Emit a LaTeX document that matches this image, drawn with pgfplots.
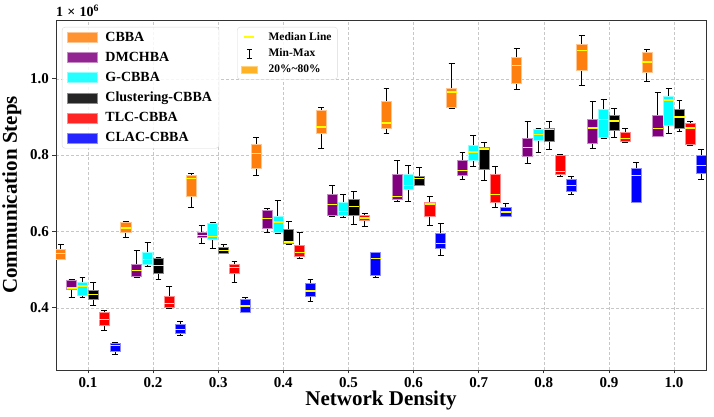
\documentclass[border=0pt]{standalone}
\usepackage{pgfplots}
\pgfplotsset{compat=1.18}
\usepackage{pgfplotstable}
\usepgfplotslibrary{statistics}
\usepackage{fontspec}
\setmainfont{Liberation Serif}

\definecolor{cOrange}{RGB}{255,127,14}
\definecolor{cPurple}{RGB}{128,0,128}
\definecolor{cCyan}{RGB}{0,255,255}
\definecolor{cBlack}{RGB}{0,0,0}
\definecolor{cRed}{RGB}{255,0,0}
\definecolor{cBlue}{RGB}{0,0,255}
\definecolor{cLegOrange}{RGB}{255,165,0}
\definecolor{cMed}{RGB}{255,255,0}

% columns: lower whisker, lower quartile, median, upper quartile, upper whisker (x 10^6)
\pgfplotstableread{
lw lq med uq uw
0.526 0.528 0.543 0.553 0.565
0.583 0.598 0.609 0.624 0.626
0.662 0.692 0.738 0.747 0.753
0.746 0.764 0.805 0.827 0.845
0.818 0.858 0.874 0.916 0.925
0.856 0.869 0.884 0.941 0.975
0.921 0.924 0.965 0.975 1.039
0.972 0.989 1.035 1.057 1.079
0.982 1.022 1.074 1.089 1.114
0.993 1.016 1.044 1.070 1.077
}\cbba
\pgfplotstableread{
lw lq med uq uw
0.427 0.448 0.452 0.471 0.473
0.479 0.483 0.497 0.514 0.549
0.568 0.584 0.590 0.598 0.616
0.596 0.607 0.634 0.655 0.659
0.640 0.642 0.671 0.698 0.721
0.679 0.683 0.692 0.749 0.786
0.737 0.748 0.760 0.786 0.806
0.779 0.797 0.820 0.845 0.889
0.817 0.831 0.871 0.893 0.941
0.848 0.849 0.870 0.905 0.963
}\dmchba
\pgfplotstableread{
lw lq med uq uw
0.428 0.432 0.457 0.467 0.479
0.508 0.513 0.527 0.546 0.570
0.555 0.580 0.587 0.621 0.624
0.595 0.597 0.625 0.640 0.681
0.637 0.642 0.653 0.677 0.698
0.679 0.710 0.720 0.749 0.772
0.771 0.786 0.808 0.825 0.851
0.807 0.839 0.854 0.868 0.869
0.843 0.847 0.893 0.919 0.946
0.857 0.877 0.944 0.953 0.975
}\gcbba
\pgfplotstableread{
lw lq med uq uw
0.407 0.422 0.434 0.446 0.466
0.474 0.490 0.510 0.530 0.533
0.541 0.543 0.550 0.559 0.566
0.566 0.568 0.572 0.605 0.626
0.619 0.643 0.666 0.685 0.705
0.720 0.721 0.739 0.745 0.768
0.734 0.762 0.816 0.821 0.832
0.814 0.836 0.867 0.871 0.888
0.847 0.864 0.889 0.905 0.921
0.863 0.870 0.900 0.919 0.942
}\clust
\pgfplotstableread{
lw lq med uq uw
0.341 0.354 0.369 0.388 0.394
0.398 0.402 0.412 0.429 0.455
0.465 0.490 0.506 0.514 0.521
0.529 0.534 0.545 0.564 0.598
0.613 0.628 0.635 0.641 0.646
0.616 0.640 0.672 0.677 0.692
0.663 0.676 0.697 0.750 0.769
0.743 0.749 0.757 0.800 0.802
0.834 0.835 0.843 0.860 0.871
0.825 0.829 0.871 0.882 0.889
}\tlc
\pgfplotstableread{
lw lq med uq uw
0.278 0.286 0.302 0.307 0.310
0.327 0.332 0.343 0.356 0.365
0.387 0.389 0.405 0.421 0.427
0.417 0.429 0.444 0.463 0.475
0.480 0.485 0.530 0.544 0.546
0.537 0.555 0.568 0.594 0.622
0.639 0.640 0.651 0.663 0.672
0.696 0.705 0.720 0.737 0.743
0.676 0.677 0.746 0.764 0.781
0.737 0.751 0.772 0.799 0.814
}\clac

\newcommand{\drawboxes}[3]{%
  \pgfplotsinvokeforeach{0,...,9}{%
    \pgfplotstablegetelem{##1}{lw}\of{#1}\let\vlw\pgfplotsretval
    \pgfplotstablegetelem{##1}{lq}\of{#1}\let\vlq\pgfplotsretval
    \pgfplotstablegetelem{##1}{med}\of{#1}\let\vmed\pgfplotsretval
    \pgfplotstablegetelem{##1}{uq}\of{#1}\let\vuq\pgfplotsretval
    \pgfplotstablegetelem{##1}{uw}\of{#1}\let\vuw\pgfplotsretval
    \pgfmathsetmacro\vpos{0.1*(##1+1)#2}%
    \edef\doplot{\noexpand\addplot[forget plot, fill=#3, draw=#3!45!white, line width=0.7pt,
      boxplot prepared={draw position=\vpos, lower whisker=\vlw,
        lower quartile=\vlq, median=\vmed, upper quartile=\vuq, upper whisker=\vuw,
        box extend=0.0155, whisker extend=0.009,
        every whisker/.style={black, line width=1pt},
        every median/.style={cMed, line width=1.3pt}}]
      coordinates {};}%
    \doplot
  }%
}

\pgfplotsset{
  mypatch/.style={legend image code/.code={\draw[##1, sharp corners] (0pt,-5pt) rectangle (30pt,5pt);}},
}

\begin{document}
\begin{tikzpicture}
\begin{axis}[
  name=main,
  at={(0pt,0pt)}, anchor=south west,
  scale only axis, width=650pt, height=350pt,
  boxplot/draw direction=y,
  xmin=0.051, xmax=1.049, ymin=0.237, ymax=1.154,
  xtick={0.1,0.2,0.3,0.4,0.5,0.6,0.7,0.8,0.9,1.0},
  ytick={0.4,0.6,0.8,1.0},
  xticklabel={\pgfmathprintnumber[fixed,fixed zerofill,precision=1]{\tick}},
  yticklabel={\pgfmathprintnumber[fixed,fixed zerofill,precision=1]{\tick}},
  /pgf/number format/assume math mode=true,
  ticklabel style={font=\bfseries\fontsize{15}{15}\selectfont},
  xtick pos=lower, ytick pos=left, tick align=outside,
  major tick length=3.5pt,
  tick style={black!80, line width=0.8pt},
  grid=major,
  major grid style={black!22, dash pattern=on 3pt off 2pt, line width=0.5pt},
  axis line style={black!80, line width=0.9pt},
  xlabel={Network Density},
  ylabel={Communication Steps},
  xlabel style={font=\bfseries\fontsize{21}{21}\selectfont, at={(axis description cs:0.5,-0.088)}, anchor=center},
  ylabel style={font=\bfseries\fontsize{21}{21}\selectfont, at={(axis description cs:-0.068,0.5)}, anchor=center},
  legend cell align=left,
  legend style={at={(axis description cs:0.009,0.98)}, anchor=north west,
    draw=black!15, rounded corners=3pt, fill=white, fill opacity=0.85, text opacity=1,
    font=\bfseries\fontsize{14}{15}\selectfont, row sep=5.2pt,
    inner xsep=5pt, inner ysep=3pt,
    /tikz/every odd column/.append style={column sep=6pt}},
]
\drawboxes{\cbba}{-0.0417}{cOrange}
\drawboxes{\dmchba}{-0.025}{cPurple}
\drawboxes{\gcbba}{-0.0083}{cCyan}
\drawboxes{\clust}{+0.0083}{cBlack}
\drawboxes{\tlc}{+0.025}{cRed}
\drawboxes{\clac}{+0.0417}{cBlue}

\addlegendimage{mypatch, fill=cOrange, draw=cOrange!45!white}
\addlegendentry{CBBA}
\addlegendimage{mypatch, fill=cPurple, draw=cPurple!45!white}
\addlegendentry{DMCHBA}
\addlegendimage{mypatch, fill=cCyan, draw=cCyan!45!white}
\addlegendentry{G-CBBA}
\addlegendimage{mypatch, fill=cBlack, draw=cBlack!45!white}
\addlegendentry{Clustering-CBBA}
\addlegendimage{mypatch, fill=cRed, draw=cRed!45!white}
\addlegendentry{TLC-CBBA}
\addlegendimage{mypatch, fill=cBlue, draw=cBlue!45!white}
\addlegendentry{CLAC-CBBA}
\end{axis}

\node[anchor=south west, inner sep=0pt, font=\bfseries\fontsize{14}{14}\selectfont]
  at ([yshift=3pt]main.north west) {1\kern0.3em×\kern0.3em10\textsuperscript{6}};

\begin{axis}[
  at={(0pt,0pt)}, anchor=south west,
  scale only axis, width=650pt, height=350pt,
  xmin=0, xmax=1, ymin=0, ymax=1, hide axis,
  legend cell align=left,
  legend style={at={(axis description cs:0.2785,0.98)}, anchor=north west,
    draw=black!15, rounded corners=3pt, fill=white, fill opacity=0.85, text opacity=1,
    font=\bfseries\fontsize{11.5}{13}\selectfont, row sep=3pt,
    inner xsep=4pt, inner ysep=3pt,
    /tikz/every odd column/.append style={column sep=9pt}},
]
\addlegendimage{legend image code/.code={\draw[cMed, line width=1.4pt] (3pt,0pt) -- (13pt,0pt);}}
\addlegendentry{Median Line}
\addlegendimage{legend image code/.code={\draw[black, line width=0.8pt, sharp corners] (8pt,-4.5pt) -- (8pt,4.5pt) (5.5pt,4.5pt) -- (10.5pt,4.5pt) (5.5pt,-4.5pt) -- (10.5pt,-4.5pt);}}
\addlegendentry{Min-Max}
\addlegendimage{legend image code/.code={\draw[fill=cLegOrange, draw=cLegOrange!50!white, sharp corners] (0pt,-3.5pt) rectangle (16pt,3.5pt);}}
\addlegendentry{20\%\textasciitilde 80\%}
\end{axis}

\pgfresetboundingbox
\path[use as bounding box] (-56pt,-47pt) rectangle (658pt,370pt);
\end{tikzpicture}
\end{document}
